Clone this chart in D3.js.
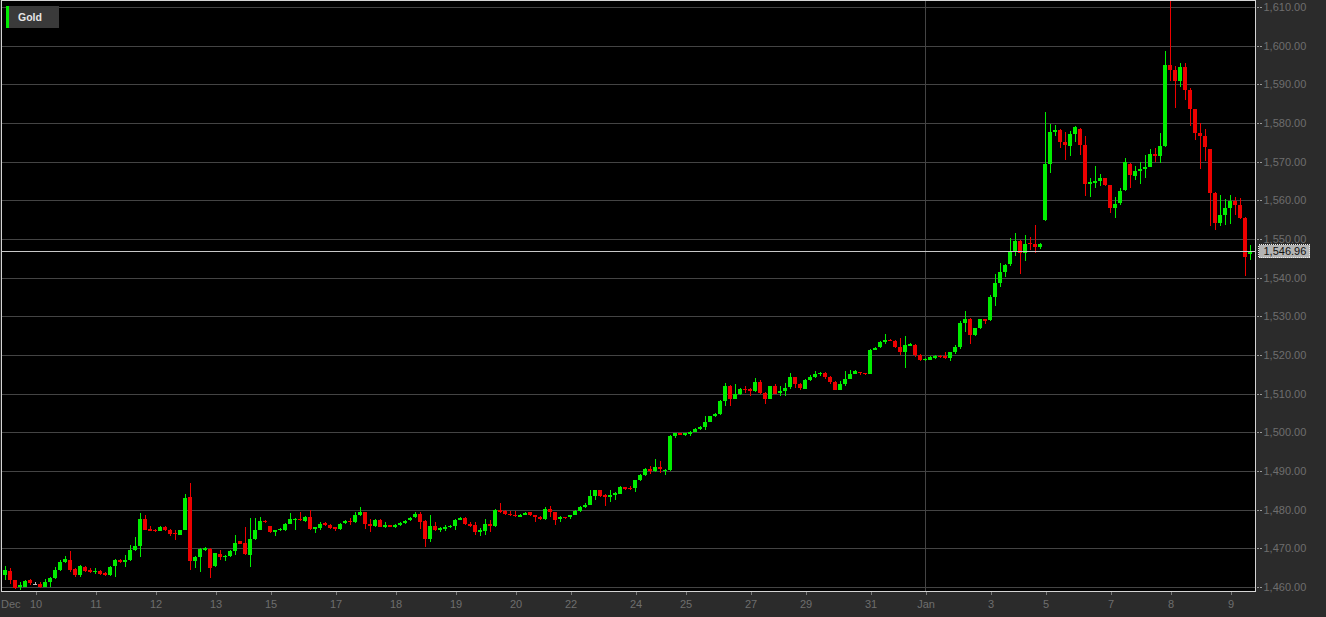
<!DOCTYPE html>
<html><head><meta charset="utf-8">
<script src="https://cdn.jsdelivr.net/npm/d3@7"></script>
<style>body{margin:0;background:#2b2b2b;overflow:hidden}svg{display:block}</style>
</head><body><svg id="c" width="1326" height="617"></svg>
<script>
const seriesName = "Gold";
const monthStartLabel = "Dec";
const lastPrice = 1546.96;
const yTicks = [1460,1470,1480,1490,1500,1510,1520,1530,1540,1550,1560,1570,1580,1590,1600,1610];
const xTickIdx = [7,19,31,43,54,67,79,91,103,114,127,137,150,161,174,185,198,209,222,234,246];
const xTickLabels = ["10","11","12","13","15","17","18","19","20","22","24","25","27","29","31","Jan","3","5","7","8","9"];
const monthBoundaryIdx = 185;

const openP = [
1462.1,1463.0,1464.1,1461.7,1459.9,1460.1,1461.7,1460.9,1460.9,1460.1,
1461.3,1462.3,1464.3,1466.5,1467.0,1464.6,1463.0,1465.2,1464.5,1463.9,
1464.1,1463.6,1463.0,1465.4,1467.1,1466.5,1467.0,1469.6,1470.5,1477.7,
1475.0,1474.7,1474.6,1475.5,1474.8,1474.0,1473.5,1474.8,1483.2,1466.7,
1467.8,1469.6,1469.8,1465.4,1468.5,1467.7,1468.0,1469.4,1471.8,1471.3,
1468.3,1472.5,1474.8,1477.1,1475.7,1474.2,1474.7,1474.8,1476.3,1477.3,
1477.7,1477.1,1478.1,1475.0,1475.2,1476.5,1476.1,1475.4,1474.9,1476.5,
1477.1,1476.7,1478.7,1479.3,1476.3,1475.8,1477.2,1475.6,1476.0,1475.4,
1476.0,1476.5,1477.2,1478.0,1478.8,1477.1,1472.3,1475.8,1474.8,1475.1,
1475.4,1475.8,1477.4,1477.9,1476.3,1476.1,1474.3,1474.6,1476.2,1475.9,
1480.0,1479.7,1478.9,1478.7,1478.2,1478.7,1479.3,1478.5,1478.2,1477.5,
1480.1,1479.3,1477.5,1478.0,1478.0,1478.7,1479.7,1480.6,1481.2,1483.6,
1485.0,1483.8,1483.4,1483.8,1484.1,1485.8,1485.7,1485.6,1487.6,1488.9,
1490.4,1489.9,1491.0,1490.1,1490.3,1499.0,1499.7,1499.4,1499.6,1500.2,
1500.9,1501.3,1502.8,1504.2,1504.8,1508.0,1512.1,1508.7,1509.9,1511.2,
1511.2,1510.6,1512.9,1510.3,1508.7,1511.9,1510.2,1510.6,1511.6,1514.2,
1512.6,1511.3,1513.6,1514.3,1515.0,1515.3,1514.3,1513.0,1511.0,1512.6,
1513.9,1515.2,1515.5,1515.3,1515.1,1521.4,1522.0,1523.3,1524.0,1523.7,
1522.0,1520.9,1522.4,1522.7,1520.1,1518.6,1518.8,1519.2,1519.7,1519.7,
1519.2,1520.9,1522.1,1528.2,1529.4,1525.3,1526.9,1529.2,1529.0,1535.0,
1538.6,1541.5,1543.5,1546.8,1549.4,1546.4,1549.0,1548.8,1547.9,1554.8,
1569.4,1577.8,1578.1,1575.0,1574.0,1577.2,1578.5,1574.4,1564.2,1564.5,
1564.9,1565.8,1563.9,1558.0,1559.2,1562.6,1569.4,1566.2,1567.7,1568.2,
1568.6,1572.1,1571.4,1574.0,1595.1,1593.6,1590.8,1594.4,1588.6,1583.7,
1577.4,1576.7,1573.4,1561.9,1554.1,1556.3,1558.0,1559.8,1558.9,1555.4,
1546.0];

const highP = [
1464.2,1465.4,1464.8,1461.9,1461.3,1461.9,1462.0,1461.3,1461.2,1462.1,
1462.6,1465.2,1467.1,1468.0,1469.3,1464.8,1465.6,1465.4,1464.8,1464.8,
1464.3,1463.8,1465.4,1467.2,1467.3,1468.3,1470.9,1472.9,1479.1,1478.5,
1475.7,1475.0,1475.8,1475.8,1475.0,1474.8,1474.8,1484.1,1486.9,1468.0,
1470.0,1470.3,1470.0,1468.9,1469.6,1468.2,1469.6,1473.5,1472.0,1475.5,
1477.9,1477.9,1478.2,1477.3,1475.9,1474.8,1475.3,1476.5,1479.1,1477.8,
1479.4,1478.3,1479.9,1475.6,1476.9,1476.7,1476.3,1475.6,1476.5,1477.4,
1477.8,1479.3,1480.6,1479.5,1477.5,1477.7,1477.5,1476.9,1476.1,1476.3,
1476.7,1477.2,1478.0,1479.3,1479.3,1477.4,1478.7,1476.7,1475.4,1476.1,
1476.0,1477.5,1478.0,1478.0,1476.7,1476.7,1475.2,1477.5,1477.4,1480.1,
1481.7,1479.9,1479.7,1479.7,1478.9,1479.4,1479.5,1478.7,1478.4,1480.8,
1481.0,1479.5,1478.4,1478.2,1478.7,1479.9,1481.0,1481.7,1485.2,1485.2,
1485.2,1484.0,1485.0,1484.5,1486.0,1485.9,1486.0,1487.8,1489.2,1490.8,
1491.4,1493.1,1492.5,1490.6,1499.3,1499.8,1499.8,1499.8,1500.4,1501.0,
1501.6,1504.2,1504.3,1505.0,1508.3,1512.8,1512.3,1512.6,1511.4,1511.9,
1511.4,1514.1,1513.6,1510.5,1512.1,1512.5,1512.1,1512.8,1515.3,1514.4,
1512.8,1513.8,1514.9,1515.8,1515.5,1515.5,1514.5,1513.2,1513.2,1515.8,
1516.2,1516.0,1515.7,1515.4,1521.6,1522.0,1523.5,1525.5,1524.2,1524.0,
1524.4,1525.0,1523.0,1522.9,1520.3,1519.2,1519.8,1519.9,1519.9,1520.7,
1520.9,1522.5,1528.8,1531.5,1529.6,1527.1,1529.4,1529.4,1535.6,1541.0,
1543.8,1543.6,1550.3,1551.5,1549.8,1551.1,1550.5,1553.7,1548.9,1582.9,
1579.8,1579.6,1578.5,1577.6,1577.9,1579.1,1578.7,1576.7,1565.8,1568.8,
1566.9,1565.9,1564.0,1560.9,1563.2,1571.0,1569.7,1569.0,1569.8,1571.6,
1573.3,1573.5,1577.4,1598.5,1611.5,1594.7,1595.4,1595.4,1589.1,1583.7,
1580.0,1578.5,1573.4,1562.1,1561.3,1560.3,1561.5,1560.9,1560.5,1555.6,
1548.5];

const lowP = [
1461.8,1461.9,1460.8,1459.5,1459.2,1459.9,1460.6,1460.4,1459.8,1459.9,
1459.9,1462.1,1464.1,1466.3,1463.9,1462.6,1462.6,1464.0,1463.6,1463.4,
1463.2,1462.8,1462.8,1462.6,1466.1,1465.2,1466.8,1469.4,1467.7,1474.7,
1474.4,1474.2,1474.4,1474.6,1473.1,1472.2,1473.4,1474.7,1464.5,1464.8,
1463.9,1469.4,1462.4,1465.2,1467.0,1466.8,1467.8,1468.3,1471.0,1468.3,
1465.2,1472.2,1474.7,1476.6,1474.0,1473.1,1474.5,1474.6,1476.2,1474.8,
1477.1,1476.9,1474.8,1474.0,1474.8,1475.8,1474.9,1474.6,1474.8,1476.3,
1476.1,1476.5,1478.4,1474.9,1474.1,1475.6,1475.4,1475.2,1475.4,1475.2,
1475.8,1476.3,1477.1,1477.8,1474.9,1470.4,1471.7,1474.6,1474.1,1474.6,
1475.2,1474.8,1477.2,1476.0,1475.4,1473.5,1473.3,1473.5,1474.3,1475.4,
1479.2,1478.7,1478.4,1478.0,1478.0,1478.5,1478.4,1476.9,1477.2,1477.4,
1478.0,1476.1,1476.9,1477.6,1477.7,1478.6,1479.5,1480.5,1481.1,1482.4,
1483.4,1481.0,1481.9,1482.4,1484.0,1485.2,1485.0,1484.5,1487.4,1488.7,
1489.3,1489.7,1489.5,1489.0,1490.0,1498.6,1499.2,1499.0,1499.1,1500.1,
1500.7,1500.7,1502.6,1504.0,1504.6,1506.9,1506.7,1508.5,1509.7,1510.3,
1509.3,1510.4,1510.0,1507.4,1508.5,1509.8,1509.5,1509.5,1511.2,1511.5,
1510.9,1511.1,1513.4,1514.1,1514.5,1513.8,1512.6,1510.9,1510.9,1512.1,
1513.8,1515.0,1514.7,1514.9,1515.0,1521.2,1521.8,1522.9,1523.5,1521.9,
1520.1,1516.6,1522.2,1519.5,1518.4,1518.4,1518.6,1519.0,1519.2,1519.0,
1518.4,1520.3,1521.6,1525.9,1522.9,1524.9,1526.7,1527.9,1528.8,1532.8,
1537.6,1540.2,1543.0,1545.5,1541.0,1544.2,1547.1,1546.4,1547.4,1554.6,
1567.1,1576.6,1573.5,1570.5,1571.4,1575.0,1571.6,1561.0,1560.9,1563.2,
1563.8,1563.6,1556.7,1555.4,1558.9,1562.3,1563.2,1565.2,1564.1,1565.8,
1568.5,1569.8,1569.7,1573.8,1590.8,1583.9,1589.3,1586.0,1579.1,1575.7,
1568.1,1570.1,1553.3,1552.4,1553.3,1553.7,1554.0,1556.3,1555.2,1540.4,
1544.6];

const closeP = [
1463.9,1464.3,1461.7,1459.8,1460.4,1461.5,1461.0,1460.9,1460.1,1461.3,
1462.3,1464.3,1466.5,1467.2,1464.3,1463.0,1465.4,1464.1,1463.9,1464.1,
1463.4,1463.1,1465.2,1467.0,1466.5,1467.1,1469.6,1470.5,1477.7,1474.8,
1474.6,1474.4,1475.5,1474.8,1473.8,1473.7,1474.7,1483.0,1466.8,1467.8,
1469.8,1470.0,1465.0,1468.7,1467.8,1468.0,1469.4,1471.3,1471.2,1468.5,
1472.5,1474.8,1477.1,1476.8,1474.2,1474.7,1475.1,1476.3,1477.5,1477.7,
1477.3,1478.1,1475.0,1475.5,1476.3,1476.0,1475.2,1474.9,1476.3,1477.1,
1476.8,1478.7,1479.3,1476.3,1475.8,1477.2,1475.6,1476.1,1475.6,1476.1,
1476.5,1477.1,1477.8,1478.8,1476.9,1472.3,1475.8,1474.8,1475.2,1475.4,
1475.8,1477.4,1477.9,1476.2,1475.8,1474.3,1474.8,1476.2,1475.8,1480.0,
1479.3,1478.9,1478.6,1478.4,1478.7,1479.2,1478.7,1478.0,1477.6,1480.1,
1479.3,1477.4,1478.2,1477.8,1478.6,1479.7,1480.8,1481.2,1483.6,1485.0,
1483.6,1483.2,1483.9,1484.3,1485.8,1485.3,1485.3,1487.6,1489.0,1490.4,
1489.9,1491.0,1490.4,1490.3,1499.0,1499.7,1499.4,1499.7,1500.2,1500.9,
1501.4,1502.8,1504.2,1504.8,1508.0,1512.1,1508.7,1509.9,1511.2,1510.9,
1510.6,1512.9,1510.3,1508.7,1511.9,1510.0,1510.6,1511.5,1514.2,1512.6,
1511.5,1513.6,1514.3,1515.2,1515.3,1514.3,1512.9,1511.0,1512.6,1513.9,
1515.2,1515.8,1515.3,1515.1,1521.4,1521.8,1523.3,1523.8,1523.7,1522.1,
1520.9,1522.7,1522.8,1520.1,1518.6,1519.0,1519.5,1519.7,1519.4,1519.2,
1520.7,1522.1,1528.2,1529.4,1525.3,1526.9,1529.2,1528.8,1535.0,1538.6,
1541.5,1543.4,1546.8,1549.4,1546.4,1548.8,1548.7,1547.9,1548.7,1569.4,
1577.7,1578.1,1575.0,1574.2,1577.2,1579.0,1574.4,1564.2,1564.7,1564.9,
1565.8,1563.9,1558.0,1559.1,1562.5,1569.8,1566.5,1567.7,1568.2,1568.6,
1572.0,1571.4,1574.0,1595.1,1593.6,1590.8,1594.4,1588.6,1583.7,1577.4,
1576.7,1573.8,1561.9,1554.1,1556.3,1558.0,1559.8,1558.9,1555.4,1545.3,
1546.96];

const candles = openP.map((o, i) => ({i, o, h: highP[i], l: lowP[i], c: closeP[i]}));

const svg = d3.select("#c");
const W = 1326, H = 617;
const plot = {left: 1.5, top: 0.5, right: 1255.5, bottom: 591.5};
const x = d3.scaleLinear().domain([0, candles.length - 1]).range([0.5, 0.5 + 5 * (candles.length - 1)]);
const y = d3.scaleLinear().domain([1460, 1610]).range([587, 7]);
const crisp = v => Math.round(v) + 0.5;
const FONT = "Arial, 'Liberation Sans', sans-serif";

svg.append("rect").attr("width", W).attr("height", H).attr("fill", "#2b2b2b");
svg.append("defs").append("clipPath").attr("id", "clip")
  .append("rect").attr("x", plot.left).attr("y", plot.top)
  .attr("width", plot.right - plot.left).attr("height", plot.bottom - plot.top);

svg.append("rect").attr("x", plot.left).attr("y", plot.top)
  .attr("width", plot.right - plot.left).attr("height", plot.bottom - plot.top)
  .attr("fill", "#000");

const g = svg.append("g").attr("clip-path", "url(#clip)").attr("shape-rendering", "crispEdges");

// grid
g.selectAll("line.grid").data(yTicks).join("line").attr("class", "grid")
  .attr("x1", plot.left).attr("x2", plot.right)
  .attr("y1", d => crisp(y(d))).attr("y2", d => crisp(y(d)))
  .attr("stroke", "#444").attr("stroke-width", 1);
g.append("line")
  .attr("x1", crisp(x(monthBoundaryIdx) - 0.5)).attr("x2", crisp(x(monthBoundaryIdx) - 0.5))
  .attr("y1", plot.top).attr("y2", plot.bottom)
  .attr("stroke", "#444");

const col = d => d.c > d.o ? "#00ee00" : (d.c < d.o ? "#ee0000" : "#bbbbbb");
// wicks
g.selectAll("line.wick").data(candles).join("line").attr("class", "wick")
  .attr("x1", d => x(d.i)).attr("x2", d => x(d.i))
  .attr("y1", d => y(d.h)).attr("y2", d => y(d.l))
  .attr("stroke", col).attr("stroke-width", 1);
// bodies
g.selectAll("rect.body").data(candles).join("rect").attr("class", "body")
  .attr("x", d => x(d.i) - 2.5).attr("width", 4)
  .attr("y", d => Math.round(y(Math.max(d.o, d.c))))
  .attr("height", d => Math.max(1, Math.round(y(Math.min(d.o, d.c))) - Math.round(y(Math.max(d.o, d.c)))))
  .attr("fill", col);

// last price line
g.append("line").attr("x1", plot.left).attr("x2", plot.right)
  .attr("y1", crisp(y(lastPrice))).attr("y2", crisp(y(lastPrice)))
  .attr("stroke", "#c8c8c8");

// frame
svg.append("rect").attr("x", plot.left).attr("y", plot.top)
  .attr("width", plot.right - plot.left).attr("height", plot.bottom - plot.top)
  .attr("fill", "none").attr("stroke", "#d4d4d4").attr("shape-rendering", "crispEdges");

// y axis
const yAxis = d3.axisRight(y).tickValues(yTicks).tickFormat(d3.format(",.2f")).tickSize(5).tickPadding(2);
const ya = svg.append("g").attr("transform", `translate(${plot.right + 1},0)`).call(yAxis);
ya.select(".domain").remove();
ya.selectAll(".tick line").attr("stroke", "#9a9a9a").attr("stroke-dasharray", "2,1").attr("shape-rendering", "crispEdges");
ya.selectAll(".tick text").attr("fill", "#6e6e6e").style("font", `11px ${FONT}`);

// last price tag
const ly = y(lastPrice);
svg.append("rect").attr("x", 1258.5).attr("y", Math.round(ly) - 6.5).attr("width", 51).attr("height", 13)
  .attr("fill", "#b4b4b4").attr("stroke", "#e8e8e8").attr("stroke-dasharray", "1,1").attr("shape-rendering", "crispEdges");
svg.append("text").attr("x", 1263.5).attr("y", ly).attr("dy", "0.35em")
  .attr("fill", "#111").style("font", `11px ${FONT}`).text(d3.format(",.2f")(lastPrice));

// x axis
const xAxis = d3.axisBottom(x).tickValues(xTickIdx).tickFormat((d, i) => xTickLabels[i]).tickSize(3).tickPadding(6);
const xa = svg.append("g").attr("transform", `translate(0,${plot.bottom})`).call(xAxis);
xa.select(".domain").remove();
xa.selectAll(".tick line").attr("stroke", "#777").attr("shape-rendering", "crispEdges");
xa.selectAll(".tick text").attr("fill", "#6e6e6e").style("font", `11px ${FONT}`);
svg.append("text").attr("x", 1).attr("y", 608).attr("fill", "#6e6e6e")
  .style("font", `11px ${FONT}`).text(monthStartLabel);

// legend
svg.append("rect").attr("x", 6).attr("y", 6).attr("width", 53).attr("height", 22).attr("fill", "#3a3a3a");
svg.append("rect").attr("x", 6).attr("y", 6).attr("width", 3).attr("height", 22).attr("fill", "#00ee00");
svg.append("text").attr("x", 18).attr("y", 21).attr("fill", "#e6e6e6")
  .style("font", `bold 10.5px ${FONT}`).text(seriesName);
</script>
</body></html>
